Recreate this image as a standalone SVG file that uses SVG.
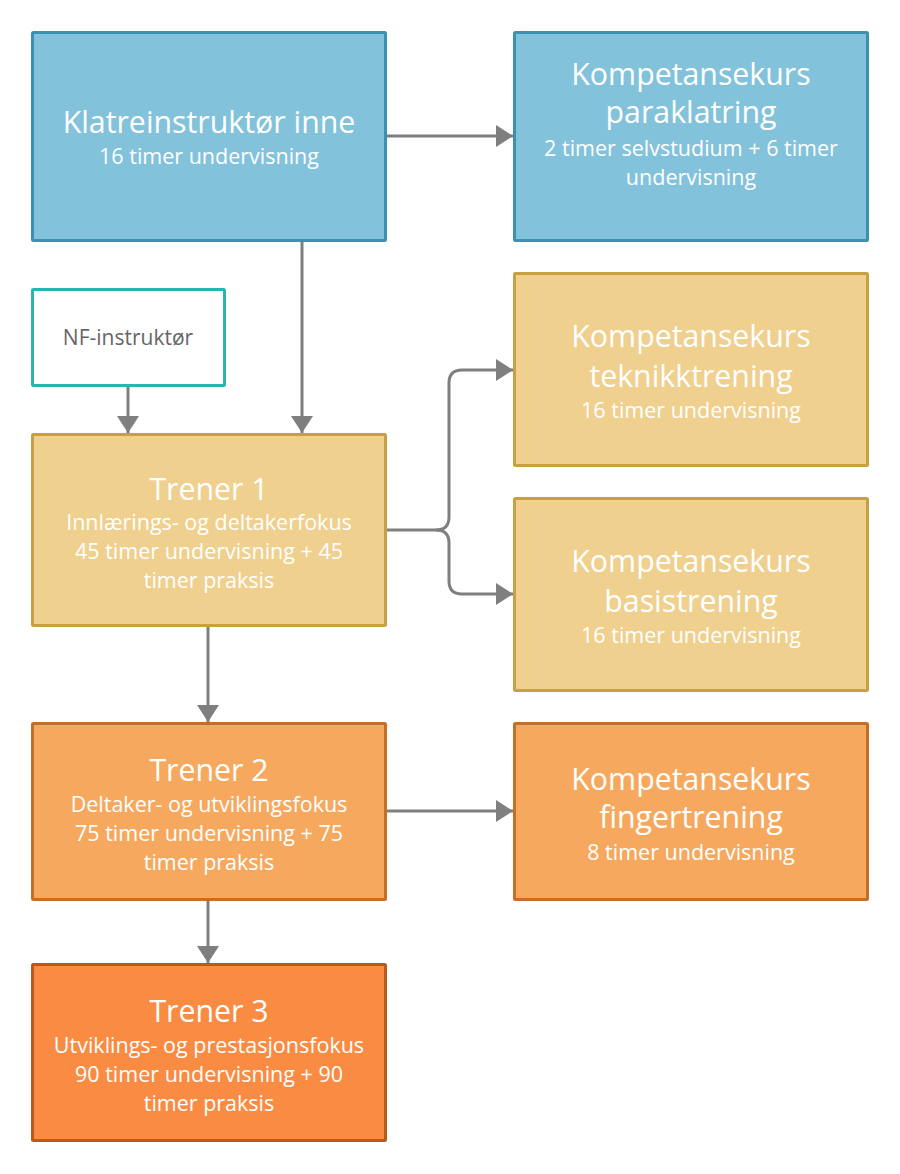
<svg xmlns="http://www.w3.org/2000/svg" width="900" height="1174" viewBox="0 0 900 1174">
<style>
.box{stroke-width:3}
.blue{fill:#83C2DB;stroke:#3B91B2}
.yel{fill:#F0D08E;stroke:#C8A044}
.or2{fill:#F6A95E;stroke:#C46E28}
.or3{fill:#F98B43;stroke:#B65A1F}
.nf{fill:#FFFFFF;stroke:#2BB3B0}
text{font-family:"Open Sans","Noto Sans","DejaVu Sans",sans-serif;text-anchor:middle;fill:#FFFFFF}
.t{font-size:30.3px}
.s{font-size:21.5px}
.g{fill:#666666;font-size:21px}
.c{fill:none;stroke:#7F7F7F;stroke-width:3}
</style>
<defs>
<marker id="ah" markerUnits="userSpaceOnUse" markerWidth="18" markerHeight="22" viewBox="0 0 18 22" refX="17" refY="11" orient="auto">
<path d="M0,0 L17,11 L0,22 Z" fill="#7F7F7F"/>
</marker>
</defs>
<g id="connectors">
<path class="c" d="M386,136 H513" marker-end="url(#ah)"/>
<path class="c" d="M302,241 V433" marker-end="url(#ah)"/>
<path class="c" d="M128,387 V433" marker-end="url(#ah)"/>
<path class="c" d="M386,530 H436 Q449,530 449,517 V383 Q449,370 462,370 H513" marker-end="url(#ah)"/>
<path class="c" d="M436,530 Q449,530 449,543 V581 Q449,594 462,594 H513" marker-end="url(#ah)"/>
<path class="c" d="M208,627 V722" marker-end="url(#ah)"/>
<path class="c" d="M386,811 H513" marker-end="url(#ah)"/>
<path class="c" d="M208,901 V963" marker-end="url(#ah)"/>
</g>
<g id="klatreinstruktor">
<rect class="box blue" x="32.5" y="32.5" width="353" height="208" rx="1"/>
<text class="t" x="209" y="133">Klatreinstruktør inne</text>
<text class="s" x="209" y="164">16 timer undervisning</text>
</g>
<g id="paraklatring">
<rect class="box blue" x="514.5" y="32.5" width="353" height="208" rx="1"/>
<text class="t" x="691" y="85">Kompetansekurs</text>
<text class="t" x="691" y="123">paraklatring</text>
<text class="s" x="691" y="156">2 timer selvstudium + 6 timer</text>
<text class="s" x="691" y="185">undervisning</text>
</g>
<g id="nf-instruktor">
<rect class="box nf" x="32.5" y="289.5" width="192" height="96" rx="1"/>
<text class="g" x="128" y="345">NF-instruktør</text>
</g>
<g id="trener1">
<rect class="box yel" x="32.5" y="434.5" width="353" height="191" rx="1"/>
<text class="t" x="209" y="500">Trener 1</text>
<text class="s" x="209" y="530">Innlærings- og deltakerfokus</text>
<text class="s" x="209" y="559">45 timer undervisning + 45</text>
<text class="s" x="209" y="588">timer praksis</text>
</g>
<g id="teknikktrening">
<rect class="box yel" x="514.5" y="273.5" width="353" height="192" rx="1"/>
<text class="t" x="691" y="347">Kompetansekurs</text>
<text class="t" x="691" y="387">teknikktrening</text>
<text class="s" x="691" y="418">16 timer undervisning</text>
</g>
<g id="basistrening">
<rect class="box yel" x="514.5" y="498.5" width="353" height="192" rx="1"/>
<text class="t" x="691" y="572">Kompetansekurs</text>
<text class="t" x="691" y="612">basistrening</text>
<text class="s" x="691" y="643">16 timer undervisning</text>
</g>
<g id="trener2">
<rect class="box or2" x="32.5" y="723.5" width="353" height="176" rx="1"/>
<text class="t" x="209" y="781">Trener 2</text>
<text class="s" x="209" y="812">Deltaker- og utviklingsfokus</text>
<text class="s" x="209" y="841">75 timer undervisning + 75</text>
<text class="s" x="209" y="870">timer praksis</text>
</g>
<g id="fingertrening">
<rect class="box or2" x="514.5" y="723.5" width="353" height="176" rx="1"/>
<text class="t" x="691" y="790">Kompetansekurs</text>
<text class="t" x="691" y="828">fingertrening</text>
<text class="s" x="691" y="860">8 timer undervisning</text>
</g>
<g id="trener3">
<rect class="box or3" x="32.5" y="964.5" width="353" height="176" rx="1"/>
<text class="t" x="209" y="1022">Trener 3</text>
<text class="s" x="209" y="1053">Utviklings- og prestasjonsfokus</text>
<text class="s" x="209" y="1082">90 timer undervisning + 90</text>
<text class="s" x="209" y="1111">timer praksis</text>
</g>
</svg>
